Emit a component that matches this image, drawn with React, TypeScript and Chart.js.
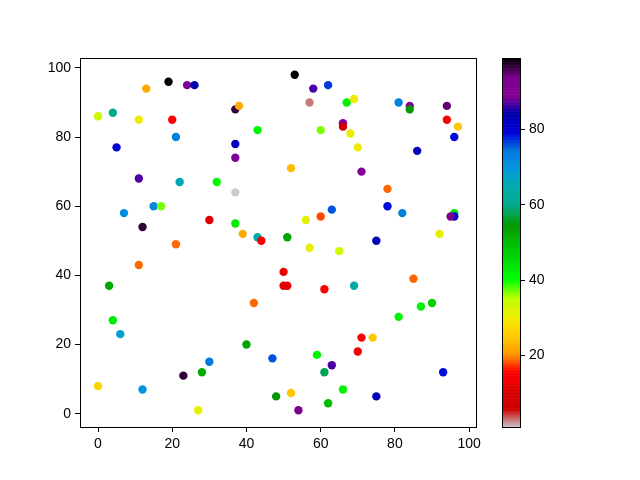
import React, { useEffect, useRef } from "react";
import { Chart, registerables } from "chart.js";

Chart.register(...registerables);

const xValues = [13, 19, 24, 26, 0, 4, 11, 20, 37, 38, 21, 5, 37, 37, 11, 22, 32, 37, 15, 17, 7, 12, 30, 37, 39, 21,
  53, 58, 62, 57, 67, 69, 81, 84, 84, 43, 60, 66, 66, 68, 70, 52, 71, 78, 78, 82, 63, 60, 56, 43, 44, 51, 57, 65, 75,
  94, 94, 97, 96, 86, 96, 96, 95, 92,
  11, 3, 4, 6, 0, 12, 23, 28, 30, 27, 40, 42,
  50, 50, 51, 61, 69, 81, 71, 74, 70, 47, 59, 63, 61, 66, 48, 52, 62, 54, 75,
  85, 87, 90, 93];
const yValues = [94, 96, 95, 95, 86, 87, 85, 85, 88, 89, 80, 77, 78, 74, 68, 67, 67, 64, 60, 60, 58, 54, 56, 55, 52, 49,
  98, 94, 95, 90, 90, 91, 90, 89, 88, 82, 82, 84, 83, 81, 77, 71, 70, 65, 60, 58, 59, 57, 56, 51, 50, 51, 48, 47, 50,
  89, 85, 83, 80, 76, 58, 57, 57, 52,
  43, 37, 27, 23, 8, 7, 11, 12, 15, 1, 20, 32,
  41, 37, 37, 36, 37, 28, 22, 22, 18, 16, 17, 14, 12, 7, 5, 6, 3, 1, 5,
  39, 31, 32, 12];
const colorValues = [22, 99, 89, 84, 34, 60, 30, 15, 97, 22, 73, 80, 82, 89, 87, 66, 41, 1, 72, 37, 71, 97, 11, 43, 22, 19,
  99, 87, 77, 3, 42, 30, 73, 90, 55, 42, 37, 90, 8, 30, 30, 24, 90, 19, 79, 73, 76, 18, 31, 64, 15, 53, 31, 33, 83,
  95, 15, 25, 79, 83, 44, 80, 92, 31,
  19, 53, 43, 68, 27, 70, 97, 52, 74, 31, 53, 19,
  13, 12, 12, 15, 64, 42, 15, 25, 14, 76, 42, 87, 58, 42, 55, 25, 50, 93, 83,
  19, 42, 47, 79];
const xTicks = [0, 20, 40, 60, 80, 100];
const yTicks = [0, 20, 40, 60, 80, 100];
const cbTicks = [20, 40, 60, 80];

const C_MIN = Math.min(...colorValues);
const C_MAX = Math.max(...colorValues);

// nipy_spectral colormap stops
const NS: [number, number, number][] = [
  [0, 0, 0], [0.4667, 0, 0.5333], [0.5333, 0, 0.6], [0, 0, 0.6667], [0, 0, 0.8667],
  [0, 0.4667, 0.8667], [0, 0.6, 0.8667], [0, 0.6667, 0.6667], [0, 0.6667, 0.5333], [0, 0.6, 0],
  [0, 0.7333, 0], [0, 0.8667, 0], [0, 1, 0], [0.7333, 1, 0], [0.9333, 0.9333, 0],
  [1, 0.8, 0], [1, 0.6, 0], [1, 0, 0], [0.8667, 0, 0], [0.8, 0, 0], [0.8, 0.8, 0.8],
];

function cmap(v: number): string {
  let t = (v - C_MIN) / (C_MAX - C_MIN);
  t = Math.max(0, Math.min(1, t));
  const s = 1 - t; // reversed
  const pos = s * (NS.length - 1);
  const i = Math.min(NS.length - 2, Math.floor(pos));
  const f = pos - i;
  const a = NS[i], b = NS[i + 1];
  const r = Math.round((a[0] + (b[0] - a[0]) * f) * 255);
  const g = Math.round((a[1] + (b[1] - a[1]) * f) * 255);
  const bl = Math.round((a[2] + (b[2] - a[2]) * f) * 255);
  return `rgb(${r},${g},${bl})`;
}

const FONT = { family: "'Liberation Sans', Arial, sans-serif", size: 14 };

const frame = {
  id: "frame",
  afterDraw(chart: any) {
    const { ctx, chartArea: a } = chart;
    ctx.save();
    ctx.strokeStyle = "#000";
    ctx.lineWidth = 1;
    ctx.strokeRect(Math.round(a.left) + 0.5, Math.round(a.top) + 0.5, Math.round(a.right - a.left), Math.round(a.bottom - a.top));
    ctx.restore();
  },
};

const gradientBar = {
  id: "gradientBar",
  beforeDatasetsDraw(chart: any) {
    const { ctx, chartArea: a } = chart;
    const ys = chart.scales.y;
    const n = 256;
    ctx.save();
    for (let k = 0; k < n; k++) {
      const v0 = C_MIN + ((C_MAX - C_MIN) * k) / n;
      const v1 = C_MIN + ((C_MAX - C_MIN) * (k + 1)) / n;
      const p0 = ys.getPixelForValue(v0);
      const p1 = ys.getPixelForValue(v1);
      ctx.fillStyle = cmap((v0 + v1) / 2);
      ctx.fillRect(a.left, p1, a.right - a.left, p0 - p1 + 0.6);
    }
    ctx.restore();
  },
};

export default function App() {
  const ref1 = useRef<HTMLCanvasElement>(null);
  const ref2 = useRef<HTMLCanvasElement>(null);

  useEffect(() => {
    const pts = xValues.map((x, i) => ({ x, y: yValues[i] }));
    const colors = colorValues.map(cmap);
    const axisCommon = {
      grid: { drawOnChartArea: false, drawTicks: true, tickLength: 5, color: "#000", lineWidth: 1 },
      border: { color: "#000", width: 1 },
      ticks: { color: "#000", font: FONT, padding: 4, maxRotation: 0, autoSkip: false },
    };
    const c1 = new Chart(ref1.current!, {
      type: "scatter",
      data: {
        datasets: [{
          data: pts,
          backgroundColor: colors,
          borderWidth: 0,
          pointRadius: 4.2,
          pointHoverRadius: 4.2,
        }],
      },
      options: {
        animation: false,
        responsive: false,
        events: [],
        layout: { padding: { left: 0, right: 164, top: 58, bottom: 0 } },
        plugins: { legend: { display: false }, tooltip: { enabled: false } },
        scales: {
          x: {
            type: "linear", min: -4.85, max: 101.85,
            ...axisCommon,
            afterBuildTicks: (s: any) => { s.ticks = xTicks.map((v) => ({ value: v })); },
            afterFit: (s: any) => { s.height = 53; },
          },
          y: {
            type: "linear", min: -3.85, max: 102.85,
            ...axisCommon,
            afterBuildTicks: (s: any) => { s.ticks = yTicks.map((v) => ({ value: v })); },
            afterFit: (s: any) => { s.width = 80; },
          },
        },
      },
      plugins: [frame],
    });

    const c2 = new Chart(ref2.current!, {
      type: "scatter",
      data: { datasets: [{ data: [], pointRadius: 0 }] },
      options: {
        animation: false,
        responsive: false,
        events: [],
        layout: { padding: { left: 502, right: 0, top: 58, bottom: 53 } },
        plugins: { legend: { display: false }, tooltip: { enabled: false } },
        scales: {
          x: { type: "linear", display: false, min: 0, max: 1 },
          y: {
            type: "linear", position: "right", min: C_MIN, max: C_MAX,
            ...axisCommon,
            afterBuildTicks: (s: any) => { s.ticks = cbTicks.map((v) => ({ value: v })); },
            afterFit: (s: any) => { s.width = 120; },
          },
        },
      },
      plugins: [gradientBar, frame],
    });

    return () => { c1.destroy(); c2.destroy(); };
  }, []);

  return (
    <div style={{ position: "fixed", left: 0, top: 0, width: 640, height: 480, background: "#fff" }}>
      <canvas ref={ref1} width={640} height={480} style={{ position: "absolute", left: 0, top: 0 }} />
      <canvas ref={ref2} width={640} height={480} style={{ position: "absolute", left: 0, top: 0 }} />
    </div>
  );
}
